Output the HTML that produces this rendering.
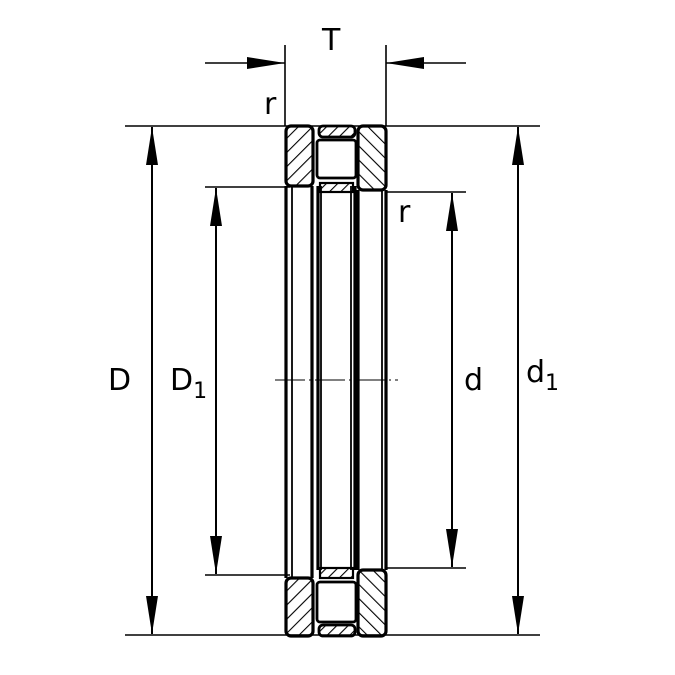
<!DOCTYPE html>
<html><head><style>body{margin:0;background:#fff}svg{display:block}</style></head><body>
<svg width="675" height="675" viewBox="0 0 675 675" xmlns="http://www.w3.org/2000/svg">
<defs>
<pattern id="h1" patternUnits="userSpaceOnUse" width="10" height="10" patternTransform="rotate(45)"><line x1="0" y1="0" x2="0" y2="10" stroke="#000" stroke-width="2.2"/></pattern>
<pattern id="h2" patternUnits="userSpaceOnUse" width="10" height="10" patternTransform="rotate(-45)"><line x1="0" y1="0" x2="0" y2="10" stroke="#000" stroke-width="2.2"/></pattern>
<pattern id="h3" patternUnits="userSpaceOnUse" width="8" height="8" patternTransform="rotate(45)"><line x1="0" y1="0" x2="0" y2="8" stroke="#000" stroke-width="2.2"/></pattern>
<marker id="a" viewBox="0 0 38 12" refX="38" refY="6" markerWidth="38" markerHeight="12" markerUnits="userSpaceOnUse" orient="auto-start-reverse"><path d="M0,0 L38,6 L0,12z" fill="#000"/></marker>
</defs>
<g stroke="#000" fill="none">
<g stroke-width="1.6">
<line x1="125" y1="126" x2="540" y2="126"/>
<line x1="125" y1="635" x2="540" y2="635"/>
<line x1="205" y1="187" x2="290" y2="187"/>
<line x1="205" y1="575" x2="290" y2="575"/>
<line x1="386" y1="192" x2="466" y2="192"/>
<line x1="386" y1="568" x2="466" y2="568"/>
<line x1="285" y1="45" x2="285" y2="126"/>
<line x1="386" y1="45" x2="386" y2="126"/>
<line x1="205" y1="63" x2="285" y2="63" marker-end="url(#a)"/>
<line x1="466" y1="63" x2="386" y2="63" marker-end="url(#a)"/>
</g>
<g stroke-width="2">
<line x1="152" y1="127" x2="152" y2="634" marker-start="url(#a)" marker-end="url(#a)"/>
<line x1="518" y1="127" x2="518" y2="634" marker-start="url(#a)" marker-end="url(#a)"/>
<line x1="216" y1="188" x2="216" y2="574" marker-start="url(#a)" marker-end="url(#a)"/>
<line x1="452" y1="193" x2="452" y2="567" marker-start="url(#a)" marker-end="url(#a)"/>
</g>
<line x1="275" y1="380" x2="398" y2="380" stroke-width="1" stroke-dasharray="30,4,2,4"/>
<g stroke-width="1.8">
<line x1="292" y1="186" x2="292" y2="578"/>
<line x1="321" y1="186" x2="321" y2="570"/>
<line x1="351" y1="186" x2="351" y2="570"/>
<line x1="382" y1="190" x2="382" y2="570"/>
</g>
<g stroke-width="3.2">
<line x1="286" y1="186" x2="286" y2="578"/>
<line x1="312" y1="186" x2="312" y2="578"/>
<line x1="318" y1="186" x2="318" y2="570"/>
<line x1="355" y1="186" x2="355" y2="570"/>
<line x1="358" y1="190" x2="358" y2="570"/>
<line x1="386" y1="190" x2="386" y2="570"/>
</g>
<rect x="286" y="126" width="27" height="60" rx="5" fill="url(#h1)" stroke-width="3.2"/>
<rect x="358" y="126" width="28" height="64" rx="5" fill="url(#h2)" stroke-width="3.2"/>
<rect x="319" y="126" width="36" height="11" rx="4" fill="url(#h3)" stroke-width="2.8"/>
<rect x="317" y="140" width="39" height="38" rx="3" fill="#fff" stroke-width="2.8"/>
<rect x="320" y="183" width="33" height="9" fill="url(#h3)" stroke-width="2.2"/>
<rect x="286" y="578" width="27" height="58" rx="5" fill="url(#h1)" stroke-width="3.2"/>
<rect x="358" y="570" width="28" height="66" rx="5" fill="url(#h2)" stroke-width="3.2"/>
<rect x="319" y="625" width="36" height="11" rx="4" fill="url(#h3)" stroke-width="2.8"/>
<rect x="317" y="582" width="39" height="40" rx="3" fill="#fff" stroke-width="2.8"/>
<rect x="320" y="568" width="33" height="10" fill="url(#h3)" stroke-width="2.2"/>
</g>
<g font-family="DejaVu Sans, sans-serif" font-size="30" fill="#000">
<text x="322" y="50">T</text>
<text x="264" y="114">r</text>
<text x="398" y="222">r</text>
<text x="108" y="390">D</text>
<text x="170" y="390">D<tspan font-size="22" dy="8">1</tspan></text>
<text x="464" y="390">d</text>
<text x="526" y="382">d<tspan font-size="22" dy="8">1</tspan></text>
</g>
</svg>
</body></html>
